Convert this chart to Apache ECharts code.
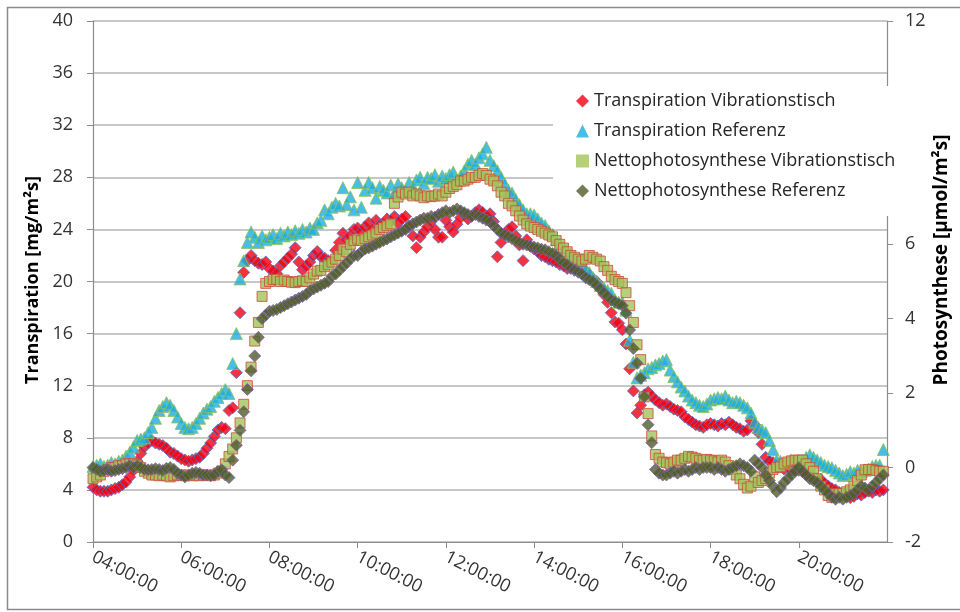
<!DOCTYPE html>
<html>
<head>
<meta charset="utf-8">
<script src="https://cdn.jsdelivr.net/npm/echarts@6/dist/echarts.min.js"></script>
<style>html,body{margin:0;padding:0;background:#fff}#c{width:960px;height:612px}</style>
</head>
<body>
<div id="c"></div>
<script>
// 5-minute samples from 04:00 to 21:55
const transpVib = [
 4.2,4.0,3.9,3.9,3.9,4.0,4.1,4.2,4.4,4.6,5.0,5.5,
 6.2,6.8,7.3,7.6,7.8,7.6,7.5,7.4,7.2,6.9,6.8,6.6,
 6.4,6.3,6.2,6.3,6.4,6.5,6.8,7.2,7.6,8.1,8.6,8.8,
 8.7,10.1,10.3,13.0,17.6,20.7,21.6,22.0,21.6,21.4,21.3,21.5,
 21.0,20.8,20.6,21.2,21.5,21.8,22.1,22.6,21.5,20.9,21.2,21.5,
 22.0,22.3,21.9,21.8,21.6,21.5,22.4,23.0,23.7,23.2,23.5,24.0,
 24.1,23.8,24.2,24.5,24.0,24.7,24.3,24.4,24.8,24.6,25.0,24.5,
 24.8,25.0,24.2,23.5,22.6,23.4,23.8,24.2,24.6,24.0,23.4,23.4,
 24.7,24.2,23.8,24.4,24.9,25.2,24.8,25.0,25.3,25.5,25.3,25.0,
 25.2,24.6,21.9,23.0,23.6,24.0,24.2,23.5,22.8,21.6,23.2,22.7,
 22.5,22.3,22.0,21.9,21.7,21.6,21.5,21.3,21.2,21.0,21.1,21.0,
 21.0,21.4,20.8,20.5,20.2,20.0,19.6,19.0,18.4,17.6,16.9,16.8,
 16.3,15.2,13.3,11.6,9.9,10.5,11.3,11.5,11.2,10.9,10.7,10.5,
 10.6,10.4,10.2,10.1,10.0,9.6,9.4,9.2,9.0,8.9,8.8,9.0,
 9.1,9.0,8.9,9.1,9.0,9.2,9.0,8.8,8.7,8.5,8.6,9.3,
 9.0,8.4,7.5,6.5,6.2,6.1,5.9,5.8,5.6,5.7,5.5,5.6,
 5.5,5.4,5.3,5.2,5.0,4.9,4.8,4.5,4.3,4.1,4.0,3.8,
 3.7,3.6,3.4,3.5,3.7,3.6,3.8,3.9,3.8,4.0,3.9,4.0
];
const transpRef = [
 5.8,5.9,6.0,5.8,5.9,6.1,6.0,6.2,6.3,6.6,6.9,7.3,
 7.8,7.9,8.0,8.4,8.8,9.5,10.1,10.4,10.7,10.5,10.1,9.6,
 9.1,8.8,8.7,8.8,9.1,9.5,9.9,10.2,10.4,10.8,11.1,11.4,
 11.7,11.4,13.7,16.0,20.2,21.6,23.0,23.8,23.4,23.0,23.5,23.2,
 23.4,23.6,23.3,23.7,23.5,23.8,23.6,23.9,23.7,24.0,23.8,24.1,
 24.0,24.5,24.7,25.5,25.2,25.7,26.0,25.8,27.2,25.9,26.5,25.5,
 27.6,25.7,27.0,27.6,27.2,26.4,27.3,27.0,26.8,27.4,26.8,27.5,
 27.2,26.9,27.6,27.3,27.8,28.0,27.5,28.0,27.9,28.2,27.7,28.1,
 27.9,28.2,28.4,27.8,28.1,28.5,29.0,29.3,29.0,29.5,29.8,30.3,
 29.3,28.9,28.5,28.0,27.5,27.0,26.8,26.3,25.9,25.5,25.2,25.2,
 25.1,24.8,24.5,24.3,23.9,23.6,23.2,22.9,22.6,22.4,22.1,21.9,
 21.5,21.2,20.9,20.7,20.3,20.0,19.7,19.5,19.3,19.1,18.6,18.4,
 18.4,17.8,15.5,13.8,12.6,12.8,13.0,13.3,13.4,13.6,13.7,13.9,
 14.0,13.2,12.7,12.3,11.9,11.6,11.2,10.9,10.7,10.5,10.4,10.6,
 10.9,11.0,11.1,11.0,11.2,10.9,10.7,10.8,10.7,10.5,10.3,9.9,
 9.2,8.8,8.6,8.4,7.8,7.1,6.3,6.2,6.0,6.1,6.3,6.2,
 6.1,6.3,6.5,6.7,6.5,6.3,6.1,5.9,5.8,5.7,5.5,5.3,
 5.1,5.2,5.4,5.3,5.5,5.4,5.5,5.6,5.8,5.9,5.9,7.1
];
const photoVib = [
 -0.3,-0.25,-0.2,-0.1,-0.05,0.0,0.0,0.05,0.05,0.1,0.1,0.1,
 0.07,0.0,-0.1,-0.15,-0.2,-0.2,-0.22,-0.2,-0.22,-0.25,-0.22,-0.2,
 -0.2,-0.22,-0.2,-0.22,-0.2,-0.22,-0.2,-0.2,-0.22,-0.2,-0.15,-0.1,
 0.1,0.3,0.5,0.8,1.2,1.7,2.2,2.7,3.4,3.9,4.6,4.95,
 5.0,5.05,5.06,5.0,5.04,5.0,4.98,4.97,5.0,5.02,5.0,5.1,
 5.2,5.28,5.3,5.4,5.45,5.52,5.6,5.7,5.87,5.8,6.0,6.1,
 6.14,6.1,6.15,6.2,6.25,6.3,6.4,6.45,6.5,6.55,7.1,7.27,
 7.4,7.35,7.4,7.3,7.35,7.3,7.25,7.3,7.28,7.3,7.35,7.3,
 7.4,7.5,7.55,7.6,7.7,7.7,7.75,7.8,7.8,7.85,7.9,7.85,
 7.75,7.7,7.57,7.4,7.3,7.1,7.03,6.9,6.76,6.65,6.55,6.49,
 6.45,6.4,6.35,6.3,6.25,6.2,6.1,6.0,5.9,5.8,5.7,5.65,
 5.6,5.55,5.6,5.7,5.65,5.6,5.55,5.4,5.3,5.14,5.05,5.0,
 4.95,4.7,4.35,3.9,3.3,2.9,1.9,1.45,0.85,0.35,0.25,0.15,
 0.13,0.1,0.15,0.2,0.2,0.25,0.3,0.28,0.25,0.2,0.2,0.22,
 0.2,0.18,0.15,0.2,0.15,0.05,-0.05,-0.2,-0.3,-0.45,-0.55,-0.5,
 -0.25,-0.4,-0.35,-0.3,-0.15,-0.05,0.0,0.02,0.1,0.15,0.18,0.2,
 0.2,0.2,0.1,0.0,-0.1,-0.3,-0.5,-0.6,-0.75,-0.8,-0.7,-0.7,
 -0.7,-0.65,-0.6,-0.5,-0.35,-0.2,-0.06,-0.05,-0.05,-0.08,-0.1,-0.1
];
const photoRef = [
 0.0,-0.05,-0.1,-0.08,-0.05,-0.1,-0.08,-0.05,-0.03,0.0,0.05,0.0,
 0.05,0.0,-0.05,-0.06,-0.05,-0.03,-0.05,-0.08,-0.02,0.0,-0.05,-0.15,
 -0.2,-0.25,-0.2,-0.15,-0.13,-0.15,-0.2,-0.2,-0.22,-0.2,-0.1,-0.06,
 -0.2,-0.27,0.2,0.6,1.0,1.5,2.1,2.6,3.0,3.5,4.0,4.1,
 4.2,4.22,4.25,4.3,4.35,4.4,4.45,4.5,4.55,4.6,4.65,4.75,
 4.8,4.85,4.9,4.95,5.0,5.14,5.2,5.3,5.4,5.5,5.6,5.7,
 5.7,5.8,5.87,5.9,5.95,6.0,6.05,6.1,6.14,6.2,6.25,6.3,
 6.35,6.4,6.5,6.55,6.6,6.65,6.7,6.7,6.75,6.73,6.8,6.85,
 6.9,6.85,6.9,6.95,6.9,6.85,6.8,6.76,6.8,6.75,6.7,6.65,
 6.6,6.5,6.4,6.3,6.25,6.2,6.15,6.1,6.05,6.0,5.98,5.95,
 5.93,5.9,5.87,5.85,5.8,5.75,5.7,5.6,5.5,5.45,5.35,5.3,
 5.25,5.2,5.1,5.05,5.0,4.9,4.8,4.7,4.6,4.5,4.45,4.4,
 4.35,4.15,3.7,3.2,2.8,2.4,1.9,1.15,0.67,-0.05,-0.15,-0.2,
 -0.2,-0.15,-0.1,-0.15,-0.1,-0.05,-0.1,-0.05,0.0,-0.05,0.0,0.0,
 0.0,-0.05,0.0,-0.05,-0.1,-0.05,0.0,0.05,0.1,0.05,0.0,-0.1,
 0.2,0.1,0.0,-0.2,-0.35,-0.5,-0.65,-0.55,-0.4,-0.3,-0.2,-0.1,
 0.0,-0.1,-0.2,-0.3,-0.35,-0.4,-0.5,-0.6,-0.7,-0.8,-0.85,-0.8,
 -0.85,-0.8,-0.75,-0.7,-0.6,-0.5,-0.55,-0.6,-0.5,-0.4,-0.3,-0.2
];
const seriesNames = ['Transpiration Vibrationstisch','Transpiration Referenz','Nettophotosynthese Vibrationstisch','Nettophotosynthese Referenz'];
const leftTicks = [0,4,8,12,16,20,24,28,32,36,40];
const rightTicksShown = [-2,0,2,4,6,12];

// category labels: 04:00:00 .. 22:00:00 every 5 minutes
function pad(n){return (n<10?'0':'')+n;}
const times = [];
for (let i = 0; i <= 216; i++) { const m = 240 + i * 5; times.push(pad(Math.floor(m/60)) + ':' + pad(m % 60) + ':00'); }
const showTick = function(idx){ return idx % 24 === 0 && idx < 216; };

const FONT = '"Open Sans", "DejaVu Sans", sans-serif';
const chart = echarts.init(document.getElementById('c'), null, {renderer:'canvas'});
chart.setOption({
  animation: false,
  backgroundColor: '#ffffff',
  textStyle: {fontFamily: FONT},
  grid: {left: 93, right: 73, top: 21, bottom: 70},
  xAxis: {
    type: 'category', data: times, boundaryGap: false,
    axisLine: {lineStyle: {color: '#8c8c8c', width: 1.2}},
    axisTick: {interval: showTick, length: 6, lineStyle: {color: '#8c8c8c'}},
    axisLabel: {interval: showTick, rotate: -27, margin: 14, fontSize: 18, color: '#333333', fontFamily: FONT},
    splitLine: {show: false}
  },
  yAxis: [
    {type: 'value', position: 'left', min: 0, max: 40, interval: 4,
     axisLine: {show: true, lineStyle: {color: '#8c8c8c', width: 1.2}},
     axisTick: {show: true, length: 6, lineStyle: {color: '#8c8c8c'}},
     axisLabel: {fontSize: 18, margin: 20, color: '#333333', fontFamily: FONT,
       formatter: function(v){ return leftTicks.indexOf(v) >= 0 ? String(v) : ''; }},
     splitLine: {show: true, lineStyle: {color: '#b4b4b4', width: 1.6}}},
    {type: 'value', position: 'right', min: -2, max: 12, interval: 2,
     axisLine: {show: true, lineStyle: {color: '#8c8c8c', width: 1.2}},
     axisTick: {show: true, length: 6, lineStyle: {color: '#8c8c8c'}},
     axisLabel: {fontSize: 18, margin: 18, color: '#333333', fontFamily: FONT,
       formatter: function(v){ return rightTicksShown.indexOf(v) >= 0 ? String(v) : ''; }},
     splitLine: {show: false}}
  ],
  legend: {
    orient: 'vertical', left: 553, top: 86,
    padding: [6, 10, 16, 23],
    backgroundColor: '#ffffff',
    itemWidth: 13, itemHeight: 13, itemGap: 12,
    textStyle: {fontSize: 18, color: '#262626', fontFamily: FONT},
    itemStyle: {borderWidth: 0},
    data: seriesNames
  },
  series: [
    {name: seriesNames[0], type: 'scatter', yAxisIndex: 0, data: transpVib,
     symbol: 'diamond', symbolSize: 12,
     itemStyle: {color: '#f20010', borderColor: '#5670c8', borderWidth: 1}},
    {name: seriesNames[1], type: 'scatter', yAxisIndex: 0, data: transpRef,
     symbol: 'triangle', symbolSize: 12,
     itemStyle: {color: '#1aaee0', borderColor: '#8dc056', borderWidth: 1}},
    {name: seriesNames[2], type: 'scatter', yAxisIndex: 1, data: photoVib,
     symbol: 'rect', symbolSize: 10,
     itemStyle: {color: '#a2c35a', borderColor: '#cc4a3c', borderWidth: 1}},
    {name: seriesNames[3], type: 'scatter', yAxisIndex: 1, data: photoRef,
     symbol: 'diamond', symbolSize: 12,
     itemStyle: {color: '#4f5d2a', borderColor: '#8064a2', borderWidth: 1}}
  ],
  graphic: [
    {type: 'rect', shape: {x: 7.5, y: 7.5, width: 960, height: 602}, style: {fill: 'none', stroke: '#8a8a8a', lineWidth: 1.5}, silent: true},
    {type: 'text', x: 33, y: 280, rotation: Math.PI / 2,
     style: {text: 'Transpiration [mg/m²s]', textAlign: 'center', textVerticalAlign: 'middle', font: 'bold 18px ' + FONT, fill: '#000'}},
    {type: 'text', x: 942, y: 260, rotation: Math.PI / 2,
     style: {text: 'Photosynthese [µmol/m²s]', textAlign: 'center', textVerticalAlign: 'middle', font: 'bold 19px ' + FONT, fill: '#000'}}
  ]
});
</script>
</body>
</html>
